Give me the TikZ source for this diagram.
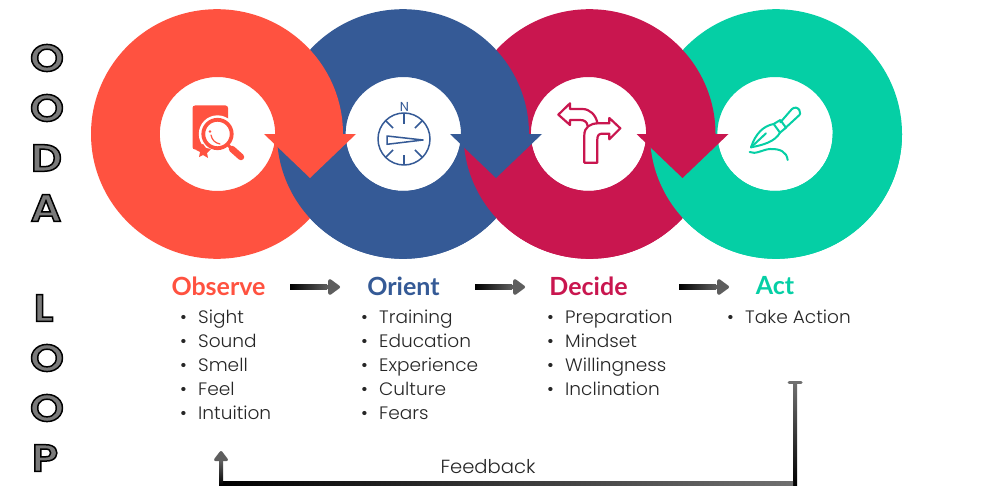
\documentclass[tikz,border=0pt]{standalone}
\usepackage{fontspec}
\usetikzlibrary{arrows.meta,calc}
\setmainfont{Poppins}
\newfontfamily\bodyf{Poppins Light}[FakeStretch=1.03]
\newfontfamily\headf{Lato}[UprightFont=* Bold]
\newfontfamily\letf{Poppins}[UprightFont=* SemiBold,FakeStretch=1.14]
\definecolor{corange}{HTML}{FF5240}
\definecolor{cblue}{HTML}{355A96}
\definecolor{ccrim}{HTML}{C9164F}
\definecolor{cgreen}{HTML}{05CFA5}
\definecolor{cgrad}{HTML}{707070}
\definecolor{chead}{HTML}{5E5E5E}
\newcommand{\ringat}[3]{\fill[#2,even odd rule] (#1,134) ellipse[x radius=126,y radius=124.8] (#3,134) ellipse[x radius=57.7,y radius=57];}
\newcommand{\tipat}[2]{\fill[#2] (#1,134) -- ++(92,0) -- ++(-46,44) -- cycle;}
\newcommand{\outl}[1]{\special{pdf:literal q 2 Tr 1.5 w 0 G 0.48 g}#1\special{pdf:literal Q}}
\tikzset{
  x=1pt,y=-1pt,
  title/.style={font=\headf\fontsize{25}{25}\selectfont,anchor=center,inner sep=0pt},
  item/.style={font=\bodyf\fontsize{18}{20}\selectfont,text=black!85,anchor=base west,inner sep=0pt},
  biglet/.style={font=\letf\fontsize{38}{38}\selectfont,anchor=center,inner sep=0pt},
  conn/.style={draw=chead,line width=4.5pt,-{Triangle[length=13pt,width=18pt,round]}},
  icon/.style={line width=1.5pt,line join=round,line cap=round},
}
\newcommand{\listitem}[3]{\node[item] (#1) at #2 {\makebox[18pt][l]{\textbullet}#3};}
\begin{document}
\begin{tikzpicture}
\useasboundingbox (0,0) rectangle (1000,500);
\fill[white] (0,0) rectangle (1000,500);
% rings
\ringat{776}{cgreen}{775}
\ringat{589.5}{ccrim}{588.5}
\ringat{403}{cblue}{403.3}
\ringat{217}{corange}{217.5}
\begin{scope}
\clip (0,134) rectangle (1000,500);
\ringat{403}{cblue}{403.3}
\ringat{589.5}{ccrim}{588.5}
\ringat{776}{cgreen}{775}
\end{scope}
\tipat{264}{corange}
\tipat{450}{cblue}
\tipat{636.5}{ccrim}
% observe icon
\fill[corange,rounded corners=2.5pt] (192.5,105.5) -- (228,105.5) -- (228,130) -- (205,149.5) -- (192.5,149.5) -- cycle;
\fill[white] (217.5,134) circle[radius=18.7];
\fill[corange] (198,146) -- (203,144) -- (206,148) -- (211,149) -- (207,153) -- (208,158) -- (203,155) -- (199,157) -- (200,152) -- (196,150) -- cycle;
\draw[corange,line width=3.8pt] (217.5,134) circle[radius=14.2];
\fill[corange] (210,131.5) circle[radius=1.3];
\draw[corange,line width=1.2pt,line cap=round] (211,135) .. controls (212,140) and (215,143) .. (220,144);
\draw[corange,line width=3pt] (228,145) -- (232,149);
\draw[corange,line width=6.5pt,line cap=round] (232,149) -- (241,157);
% compass icon
\begin{scope}[cblue,icon]
\draw (404,139) circle[radius=26];
\foreach \a in {45,90,135,225,270,315}{
  \draw[line cap=butt] ($(404,139)+(\a:26)$) -- ($(404,139)+(\a:15.5)$);
}
\draw (387,136) -- (423,140) -- (387,144.3) -- cycle;
\end{scope}
\node[font=\fontsize{13}{13}\selectfont,text=cblue,inner sep=0pt] (north) at (404.5,107) {N};
% decide icon
\begin{scope}[shift={(545,90)},x=0.3333pt,y=-0.3333pt,ccrim,icon,line width=2.2pt]
\draw (118,218) -- (157,218) -- (157,148) .. controls (157,136) and (162,131) .. (172,131) -- (193,131) -- (193,148) -- (226,115) -- (193,84) -- (193,100) -- (160,100) .. controls (135,100) and (118,112) .. (118,135) -- cycle;
\draw (128,108) .. controls (126,95) and (118,90) .. (105,90) -- (75,90) -- (75,105) -- (40,74) -- (75,40) -- (75,57) -- (112,57) .. controls (135,57) and (152,75) .. (157,98);
\end{scope}
% act icon
\begin{scope}[shift={(735,90)},x=0.3333pt,y=-0.3333pt,cgreen,icon,line width=2pt]
\draw (136,97) -- (170,58) .. controls (178,50) and (188,52) .. (193,60) .. controls (198,68) and (196,74) .. (188,80) -- (150,115);
\draw (116,102) -- (136,90) -- (153,113) -- (135,128) -- cycle;
\draw (116,102) .. controls (85,108) and (62,130) .. (48,172) .. controls (85,165) and (120,155) .. (135,128);
\draw (48,172) -- (93,130);
\draw (44,186) .. controls (60,195) and (85,178) .. (105,177) .. controls (135,176) and (155,185) .. (158,210);
\end{scope}
% left letters
\node[biglet] (l1) at (47,58) {\outl{O}};
\node[biglet] (l2) at (47,108) {\outl{O}};
\node[biglet] (l3) at (46.5,158) {\outl{D}};
\node[biglet] (l4) at (46,208) {\outl{A}};
\node[biglet] (l5) at (43.5,308) {\outl{L}};
\node[biglet] (l6) at (47,358) {\outl{O}};
\node[biglet] (l7) at (47,408) {\outl{O}};
\node[biglet] (l8) at (45,458) {\outl{P}};
% titles
\node[title,text=corange] (obs) at (218.5,286) {Observe};
\node[title,text=cblue] (ori) at (403.5,286) {Orient};
\node[title,text=ccrim] (dec) at (588.5,286) {Decide};
\node[title,text=cgreen] (act) at (775,286) {Act};
% title arrows
\coordinate (a1s) at (290,287); \coordinate (a1e) at (340,287);
\coordinate (a2s) at (475,287); \coordinate (a2e) at (525,287);
\coordinate (a3s) at (679,287); \coordinate (a3e) at (729,287);
\foreach \s/\e in {a1s/a1e,a2s/a2e,a3s/a3e}{
  \draw[conn] (\s) -- (\e);
  \shade[left color=black,right color=chead] ($(\s)+(0,-2.25)$) rectangle ($(\e)+(-13,2.25)$);
}
% lists
\listitem{o1}{(180,323)}{Sight}
\listitem{o2}{(180,347)}{Sound}
\listitem{o3}{(180,371)}{Smell}
\listitem{o4}{(180,395)}{Feel}
\listitem{o5}{(180,419)}{Intuition}
\listitem{r1}{(361,323)}{Training}
\listitem{r2}{(361,347)}{Education}
\listitem{r3}{(361,371)}{Experience}
\listitem{r4}{(361,395)}{Culture}
\listitem{r5}{(361,419)}{Fears}
\listitem{d1}{(547,323)}{Preparation}
\listitem{d2}{(547,347)}{Mindset}
\listitem{d3}{(547,371)}{Willingness}
\listitem{d4}{(547,395)}{Inclination}
\listitem{t1}{(727,323)}{Take Action}
% feedback
\coordinate (fs) at (795,382);
\coordinate (fa) at (795,483);
\coordinate (fb) at (221,483);
\coordinate (fe) at (221,451);
\draw[draw=chead,line width=4pt,-{Triangle[length=11pt,width=16pt,round]}] (fs) -- (fa) -- (fb) -- (fe);
\draw[cgrad,line width=3pt,line cap=round] ($(fs)+(-6,0)$) -- ($(fs)+(6,0)$);
\shade[top color=cgrad,bottom color=black] ($(fs)+(-2,0)$) rectangle ($(fa)+(2,2)$);
\shade[left color=black,right color=cgrad] ($(fb)+(-2,-2)$) rectangle ($(fa)+(-2,2)$);
\shade[top color=chead,bottom color=black] ($(fe)+(-2,10)$) rectangle ($(fb)+(2,2)$);
\node[font=\bodyf\fontsize{19}{20}\selectfont,text=black!85,inner sep=0pt] (fbk) at (488,467) {Feedback};
\end{tikzpicture}
\end{document}
